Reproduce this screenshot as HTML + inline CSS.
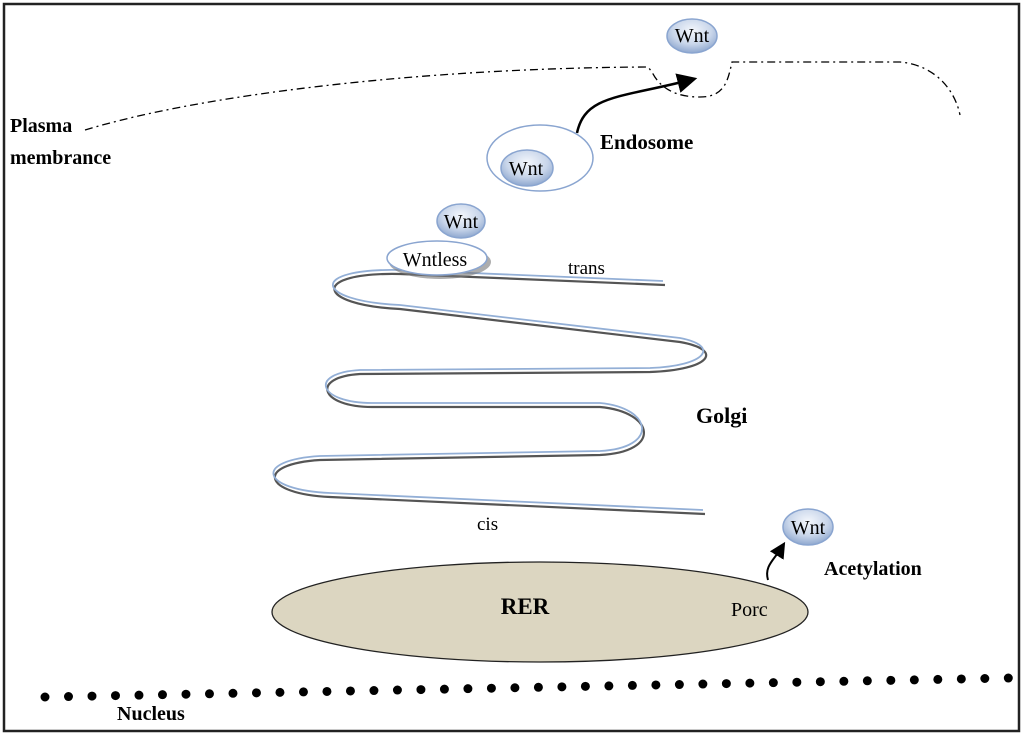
<!DOCTYPE html>
<html><head><meta charset="utf-8"><style>
html,body{margin:0;padding:0;background:#fff;}
svg{display:block;}
text{font-family:"Liberation Serif",serif;fill:#000;}
</style></head><body>
<svg width="1024" height="735" viewBox="0 0 1024 735" xmlns="http://www.w3.org/2000/svg">
<defs>
<radialGradient id="wg" cx="50%" cy="35%" r="65%">
<stop offset="0" stop-color="#f4f7fc"/><stop offset="0.6" stop-color="#c9d6ea"/><stop offset="1" stop-color="#8fa8cf"/>
</radialGradient>
<marker id="ah" markerWidth="8" markerHeight="8" refX="5" refY="4" orient="auto" markerUnits="strokeWidth">
<path d="M0,0 L8,4 L0,8 z" fill="#000"/></marker>
</defs>
<rect x="4" y="4" width="1015" height="727" fill="#fff" stroke="#222" stroke-width="2.5"/>
<path d="M85,130 C200,95 420,68 648,67 L652,72 C660,88 675,97 700,97 C725,97 728,80 732,62 L900,62 C935,65 955,90 960,115" fill="none" stroke="#000" stroke-width="1.3" stroke-dasharray="8 4 2 4"/>
<text x="10" y="132" font-size="20" font-weight="bold">Plasma</text>
<text x="10" y="164" font-size="20" font-weight="bold">membrance</text>
<ellipse cx="692" cy="36" rx="25" ry="17" fill="url(#wg)" stroke="#8aa5d0" stroke-width="1.5"/>
<text x="692" y="42" font-size="20" text-anchor="middle">Wnt</text>
<path d="M577,133 C585,95 620,98 690,80" fill="none" stroke="#000" stroke-width="2.5" marker-end="url(#ah)"/>
<ellipse cx="540" cy="158" rx="53" ry="33" fill="#fff" stroke="#8aa5d0" stroke-width="1.5"/>
<ellipse cx="527" cy="168" rx="26" ry="18" fill="url(#wg)" stroke="#8aa5d0" stroke-width="1.5"/>
<text x="526" y="175" font-size="20" text-anchor="middle">Wnt</text>
<text x="600" y="149" font-size="21" font-weight="bold">Endosome</text>
<g fill="none">
<path d="M665,285 L400,274 C310,272 315,305 400,309 L680,342 C725,350 710,370 650,372 L360,374 C310,377 320,407 372,407 L600,407 C655,412 662,452 600,455 L320,460 C255,464 262,494 330,497 L705,514" stroke="#555" stroke-width="2.2"/>
<path d="M663,281 L400,270 C308,268 313,301 400,305 L680,338 C721,346 706,366 650,368 L360,370 C308,373 318,403 372,403 L600,403 C653,408 659,448 600,451 L320,456 C253,460 260,490 330,493 L703,510" stroke="#93afd6" stroke-width="1.8"/>
</g>
<ellipse cx="440" cy="262" rx="51" ry="17" fill="#777" opacity="0.6"/>
<ellipse cx="437" cy="258" rx="50" ry="17" fill="#fff" stroke="#8aa5d0" stroke-width="1.5"/>
<text x="435" y="266" font-size="20" text-anchor="middle">Wntless</text>
<ellipse cx="461" cy="221" rx="24" ry="17" fill="url(#wg)" stroke="#8aa5d0" stroke-width="1.5"/>
<text x="461" y="228" font-size="20" text-anchor="middle">Wnt</text>
<text x="568" y="274" font-size="19">trans</text>
<text x="477" y="530" font-size="19">cis</text>
<text x="696" y="423" font-size="22" font-weight="bold">Golgi</text>
<ellipse cx="540" cy="612" rx="268" ry="50" fill="#dcd6c1" stroke="#222" stroke-width="1.3"/>
<text x="525" y="614" font-size="23" font-weight="bold" text-anchor="middle">RER</text>
<text x="731" y="616" font-size="20">Porc</text>
<ellipse cx="808" cy="527" rx="25" ry="18" fill="url(#wg)" stroke="#8aa5d0" stroke-width="1.5"/>
<text x="808" y="534" font-size="20" text-anchor="middle">Wnt</text>
<path d="M768,580 C764,566 774,560 782,547" fill="none" stroke="#000" stroke-width="2" marker-end="url(#ah)"/>
<text x="824" y="575" font-size="20" font-weight="bold">Acetylation</text>
<path d="M45,697 L1010,678" stroke="#000" stroke-width="9" stroke-linecap="round" stroke-dasharray="0 23.5" fill="none"/>
<text x="117" y="720" font-size="20" font-weight="bold">Nucleus</text>
</svg>
</body></html>
